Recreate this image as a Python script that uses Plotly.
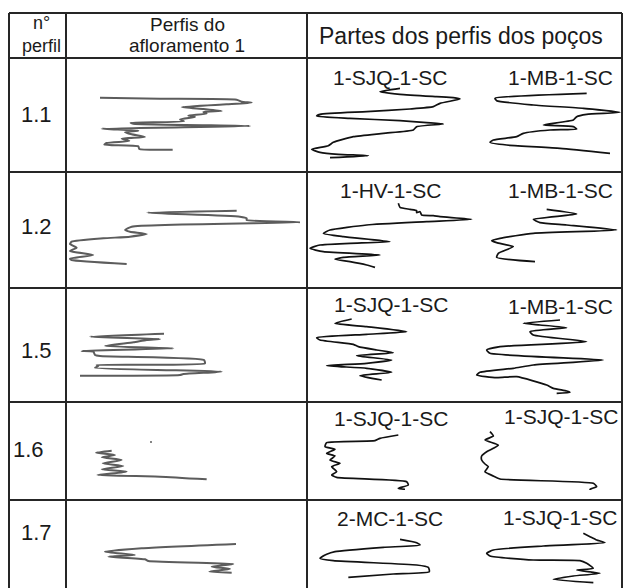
import plotly.graph_objects as go

W, H = 623, 588

# ---- table content -------------------------------------------------------
header_num = "n°<br>perfil"
header_outcrop = ["Perfis do", "afloramento 1"]
header_wells = "Partes dos perfis dos poços"
row_labels = ["1.1", "1.2", "1.5", "1.6", "1.7"]
well_left_names = ["1-SJQ-1-SC", "1-HV-1-SC", "1-SJQ-1-SC", "1-SJQ-1-SC", "2-MC-1-SC"]
well_right_names = ["1-MB-1-SC", "1-MB-1-SC", "1-MB-1-SC", "1-SJQ-1-SC", "1-SJQ-1-SC"]

# ---- log readings (reading, depth) per profile, in panel units ------------
# outcrop 1 profiles
aflor_11_val = [120, 300, 530, 545, 575, 500, 365, 430, 485, 430, 440, 385, 405, 360, 372, 212, 220, 570,
                125, 235, 195, 215, 255, 185, 208, 140, 133, 235, 238, 338]
aflor_11_dep = [128, 131, 134, 140, 143, 148, 156, 162, 168, 171, 176, 182, 186, 193, 199, 203, 206, 213,
                221, 227, 232, 238, 246, 251, 258, 264, 269, 274, 282, 284]
aflor_12_val = [530, 262, 540, 560, 560, 725, 215, 195, 210, 260, 210, 130, 35, 30, 50, 30, 100, 30, 35, 200]
aflor_12_dep = [122, 128, 140, 145, 150, 157, 170, 180, 185, 192, 200, 205, 215, 222, 233, 243, 255, 266, 270, 282]
aflor_15_val = [312, 90, 300, 260, 220, 135, 340, 65, 100, 105, 120, 432, 435, 110, 115, 105, 485, 370, 360, 60]
aflor_15_dep = [146, 155, 162, 165, 172, 183, 190, 198, 200, 210, 213, 225, 235, 240, 243, 248, 260, 267, 270, 272]
aflor_16_val = [155, 108, 165, 125, 185, 128, 190, 125, 200, 112, 300, 440]
aflor_16_dep = [152, 158, 165, 172, 180, 190, 198, 208, 215, 225, 230, 238]
aflor_17_val = [528, 245, 135, 225, 145, 255, 265, 520, 455, 510, 448, 515]
aflor_17_dep = [162, 175, 185, 195, 200, 208, 213, 222, 230, 237, 245, 248]

# well log segments, left and right wells of each row
well_11a_val = [300, 240, 300, 410, 460, 480, 420, 400, 330, 200, 60, 50, 150, 300, 380, 430, 350, 340, 250,
                160, 100, 85, 35, 60, 115, 205, 90]
well_11a_dep = [100, 110, 118, 125, 128, 132, 145, 155, 162, 170, 178, 183, 190, 197, 203, 207, 215, 225, 235,
                245, 262, 272, 283, 292, 298, 302, 308]
well_11b_val = [860, 585, 590, 700, 850, 960, 860, 830, 820, 730, 820, 830, 750, 670, 650, 580, 570, 620, 780, 930]
well_11b_dep = [115, 130, 137, 150, 160, 172, 178, 185, 195, 210, 215, 222, 225, 235, 245, 255, 262, 270, 280, 295]
well_12a_val = [295, 300, 330, 350, 350, 360, 365, 400, 420, 515, 380, 200, 90, 70, 130, 270, 150, 60, 30, 70,
                240, 130, 105, 150, 200, 225]
well_12a_dep = [100, 112, 118, 122, 128, 125, 135, 137, 140, 148, 155, 165, 180, 190, 200, 215, 220, 225, 235,
                245, 255, 262, 268, 275, 285, 292]
well_12b_val = [740, 830, 700, 720, 800, 950, 700, 600, 575, 590, 640, 595, 590, 705]
well_12b_dep = [118, 132, 148, 158, 165, 180, 190, 205, 212, 218, 230, 250, 262, 275]
well_15a_val = [155, 105, 200, 320, 200, 50, 60, 160, 175, 230, 280, 170, 275, 200, 80, 200, 275, 180, 245]
well_15a_dep = [102, 115, 125, 140, 148, 158, 165, 178, 185, 195, 203, 212, 225, 235, 242, 250, 262, 272, 285]
well_15b_val = [780, 670, 720, 800, 690, 700, 860, 600, 560, 570, 910, 700, 640, 540, 530, 590, 650, 740, 760,
                800, 810, 770]
well_15b_dep = [105, 115, 120, 128, 140, 150, 170, 185, 195, 205, 225, 240, 250, 262, 270, 278, 275, 300, 310,
                318, 322, 325]
well_16a_val = [295, 240, 225, 80, 75, 105, 80, 105, 90, 120, 95, 110, 95, 110, 320, 325, 295, 315]
well_16a_dep = [105, 115, 122, 128, 140, 148, 160, 168, 180, 190, 200, 215, 225, 232, 245, 255, 265, 268]
well_16b_val = [570, 580, 555, 595, 580, 560, 545, 545, 555, 565, 555, 580, 600, 880, 890, 870, 880]
well_16b_dep = [95, 108, 120, 135, 145, 155, 168, 180, 192, 200, 215, 228, 237, 250, 260, 268, 278]
well_17a_val = [300, 350, 360, 250, 105, 80, 60, 100, 350, 385, 388, 280, 145]
well_17a_dep = [148, 158, 165, 172, 185, 193, 205, 212, 225, 232, 245, 252, 262]
well_17b_val = [850, 870, 890, 915, 730, 580, 560, 570, 700, 840, 860, 880, 830, 900, 820, 760, 880]
well_17b_dep = [130, 140, 150, 158, 168, 180, 190, 198, 210, 212, 220, 235, 240, 250, 258, 268, 278]

# ---- geometry --------------------------------------------------------------
TABLE_L, TABLE_R, TABLE_T, TABLE_B = 9, 622, 13, 592
COL_LINES = [66, 307]
ROW_LINES = [58, 172, 288, 402, 500]
HEADER_NUM_POS = (41, 34)
HEADER_OUTCROP_POS = [(187, 24), (187, 45)]
HEADER_WELLS_POS = (461, 36)
ROW_LABEL_POS = [(36, 114), (36, 226), (36, 350), (28, 449), (36, 532)]
WELL_LEFT_POS = [(390, 77), (391, 190), (391, 304), (391, 418), (390, 518)]
WELL_RIGHT_POS = [(560, 77), (560, 190), (560, 306), (561, 416), (560, 517)]

# panel frames (x0, y0, w, h) in page pixels; readings are plotted at 3 units per pixel
ROW_TOPS = [55, 170, 285, 400, 490]
ROW_HEIGHTS = [120, 120, 120, 100, 98]
OUTCROP_X0, OUTCROP_W = 60, 250
WELL_X0, WELL_W = 300, 323
UNITS_PER_PX = 3

OUTCROP_COLOR = "#5c5c5c"
WELL_COLOR = "#111111"
GRID_COLOR = "#262626"
TEXT_COLOR = "#1a1a1a"
FONT = "Arial, Liberation Sans, sans-serif"

outcrop_logs = [(aflor_11_val, aflor_11_dep), (aflor_12_val, aflor_12_dep), (aflor_15_val, aflor_15_dep),
                (aflor_16_val, aflor_16_dep), (aflor_17_val, aflor_17_dep)]
well_logs = [[(well_11a_val, well_11a_dep), (well_11b_val, well_11b_dep)],
             [(well_12a_val, well_12a_dep), (well_12b_val, well_12b_dep)],
             [(well_15a_val, well_15a_dep), (well_15b_val, well_15b_dep)],
             [(well_16a_val, well_16a_dep), (well_16b_val, well_16b_dep)],
             [(well_17a_val, well_17a_dep), (well_17b_val, well_17b_dep)]]

fig = go.Figure()
layout_axes = {}

# page-frame axis used by the table grid and the text
fig.add_trace(go.Scatter(x=[0], y=[0], mode="markers", marker=dict(opacity=0), hoverinfo="skip",
                         showlegend=False))
layout_axes["xaxis"] = dict(domain=[0, 1], range=[0, W], visible=False, fixedrange=True)
layout_axes["yaxis"] = dict(domain=[0, 1], range=[H, 0], visible=False, fixedrange=True)

axis_id = 2


def add_panel(x0, y0, w, h, series, color, width):
    global axis_id
    k = axis_id
    axis_id += 1
    layout_axes[f"xaxis{k}"] = dict(domain=[x0 / W, (x0 + w) / W], range=[0, w * UNITS_PER_PX],
                                    anchor=f"y{k}", visible=False, fixedrange=True)
    layout_axes[f"yaxis{k}"] = dict(domain=[1 - (y0 + h) / H, 1 - y0 / H], range=[h * UNITS_PER_PX, 0],
                                    anchor=f"x{k}", visible=False, fixedrange=True)
    for vals, deps in series:
        fig.add_trace(go.Scatter(x=vals, y=deps, mode="lines", xaxis=f"x{k}", yaxis=f"y{k}",
                                 line=dict(color=color, width=width, shape="spline", smoothing=0.5),
                                 hoverinfo="skip", showlegend=False))


for i in range(len(row_labels)):
    add_panel(OUTCROP_X0, ROW_TOPS[i], OUTCROP_W, ROW_HEIGHTS[i], [outcrop_logs[i]], OUTCROP_COLOR, 2)
    add_panel(WELL_X0, ROW_TOPS[i], WELL_W, ROW_HEIGHTS[i], well_logs[i], WELL_COLOR, 1.7)

# small speck in the 1.6 outcrop panel
fig.add_trace(go.Scatter(x=[273], y=[126], mode="markers", xaxis="x8", yaxis="y8",
                         marker=dict(color=OUTCROP_COLOR, size=2), hoverinfo="skip", showlegend=False))

# table grid
shapes = []
line = dict(color=GRID_COLOR, width=2)
shapes.append(dict(type="line", xref="x", yref="y", x0=TABLE_L, x1=TABLE_L, y0=TABLE_T, y1=TABLE_B, line=line))
shapes.append(dict(type="line", xref="x", yref="y", x0=TABLE_R, x1=TABLE_R, y0=TABLE_T, y1=TABLE_B, line=line))
shapes.append(dict(type="line", xref="x", yref="y", x0=TABLE_L, x1=TABLE_R, y0=TABLE_T, y1=TABLE_T, line=line))
for cx in COL_LINES:
    shapes.append(dict(type="line", xref="x", yref="y", x0=cx, x1=cx, y0=TABLE_T, y1=TABLE_B, line=line))
for ry in ROW_LINES:
    shapes.append(dict(type="line", xref="x", yref="y", x0=TABLE_L, x1=TABLE_R, y0=ry, y1=ry, line=line))

annotations = []


def text(x, y, s, size):
    annotations.append(dict(x=x, y=y, xref="x", yref="y", text=s, showarrow=False,
                            font=dict(family=FONT, size=size, color=TEXT_COLOR),
                            xanchor="center", yanchor="middle", align="center"))


text(HEADER_NUM_POS[0], HEADER_NUM_POS[1], header_num, 18)
for (x, y), s in zip(HEADER_OUTCROP_POS, header_outcrop):
    text(x, y, s, 19)
text(HEADER_WELLS_POS[0], HEADER_WELLS_POS[1], header_wells, 23)
for (x, y), s in zip(ROW_LABEL_POS, row_labels):
    text(x, y, s, 22)
for (x, y), s in zip(WELL_LEFT_POS, well_left_names):
    text(x, y, s, 21)
for (x, y), s in zip(WELL_RIGHT_POS, well_right_names):
    text(x, y, s, 21)

fig.update_layout(width=W, height=H, margin=dict(l=0, r=0, t=0, b=0), paper_bgcolor="white",
                  plot_bgcolor="white", shapes=shapes, annotations=annotations, showlegend=False,
                  **layout_axes)

fig.write_html("out.html", config={"displayModeBar": False, "staticPlot": True})
